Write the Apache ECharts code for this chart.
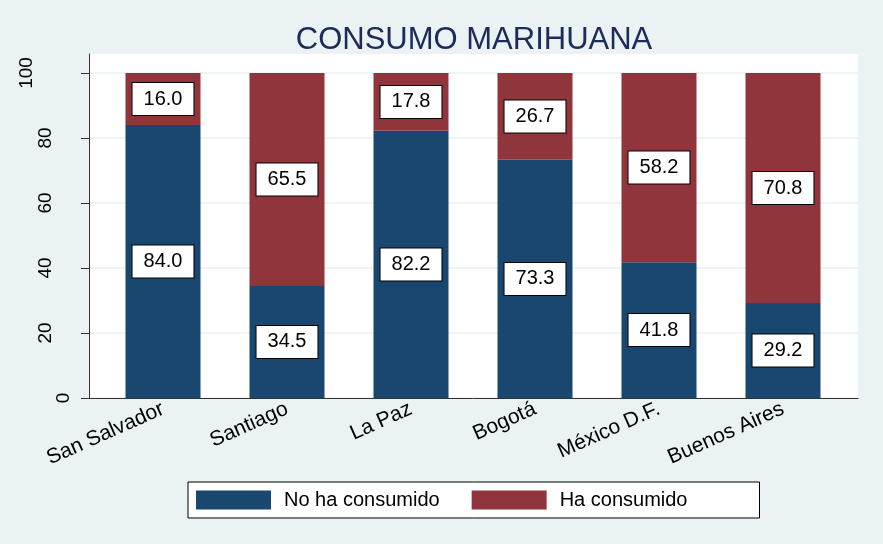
<!DOCTYPE html>
<html>
<head>
<meta charset="utf-8">
<script src="https://cdn.jsdelivr.net/npm/echarts@6/dist/echarts.min.js"></script>
<style>
html,body{margin:0;padding:0;background:#eaf2f3;}
#chart{width:883px;height:544px;}
</style>
</head>
<body>
<div id="chart"></div>
<script>
var titleText = 'CONSUMO MARIHUANA';
var cities = ['San Salvador', 'Santiago', 'La Paz', 'Bogotá', 'México D.F.', 'Buenos Aires'];
var seriesNames = ['No ha consumido', 'Ha consumido'];
var noConsumido = [84.0, 34.5, 82.2, 73.3, 41.8, 29.2];
var haConsumido = [16.0, 65.5, 17.8, 26.7, 58.2, 70.8];
var yTicks = [0, 20, 40, 60, 80, 100];

var NAVY = '#1a476f', MAROON = '#90353b';
var YMAX = 105.85;
var font = 'Arial, "Liberation Sans", sans-serif';

var chart = echarts.init(document.getElementById('chart'), null, {renderer: 'canvas'});

function labelOpt() {
  return {
    show: true,
    position: 'inside',
    formatter: function (p) { return p.value.toFixed(1); },
    color: '#000',
    fontFamily: font,
    fontSize: 20,
    lineHeight: 20,
    backgroundColor: '#fff',
    borderColor: '#000',
    borderWidth: 1,
    padding: [6, 11, 6, 11]
  };
}

var option = {
  backgroundColor: '#eaf2f3',
  animation: false,
  title: {
    text: titleText,
    left: 469,
    textAlign: 'center',
    top: 20,
    textStyle: {color: '#1c2b58', fontFamily: font, fontWeight: 'normal', fontSize: 31}
  },
  legend: {
    left: 188,
    top: 482,
    padding: [8, 72, 8, 8],
    backgroundColor: '#fff',
    borderColor: '#000',
    borderWidth: 1,
    itemWidth: 75,
    itemHeight: 19,
    itemGap: 32,
    icon: 'rect',
    textStyle: {color: '#000', fontFamily: font, fontSize: 20, padding: [0, 0, 0, 8]},
    data: seriesNames
  },
  grid: [
    {left: 89, right: 25, top: 54, bottom: 146, show: true, backgroundColor: '#fff', borderWidth: 0},
    {left: 101, width: 744, top: 54, bottom: 146}
  ],
  xAxis: [
    {gridIndex: 0, type: 'value', min: 0, max: 1,
     axisLine: {show: true, lineStyle: {color: '#333', width: 1}},
     axisTick: {show: false}, axisLabel: {show: false}, splitLine: {show: false}},
    {gridIndex: 1, type: 'category', data: cities,
     axisLine: {show: false}, axisTick: {show: false}, splitLine: {show: false},
     axisLabel: {rotate: 24, margin: 10, color: '#000', fontFamily: font, fontSize: 21, interval: 0}}
  ],
  yAxis: [
    {gridIndex: 0, type: 'value', min: 0, max: YMAX,
     axisLine: {show: true, lineStyle: {color: '#333', width: 1}},
     axisTick: {show: true, length: 8, customValues: yTicks, lineStyle: {color: '#333'}},
     axisLabel: {
       customValues: yTicks, rotate: 90, margin: 16, color: '#000', fontFamily: font, fontSize: 19,
       formatter: function (v) {
         var s = String(v);
         var k = s.length === 1 ? 'a' : (s.length === 2 ? 'b' : 'c');
         return '{' + k + '|' + s + '}';
       },
       rich: {
         a: {fontSize: 19, fontFamily: font, color: '#000', padding: [0, 0, 0, 0]},
         b: {fontSize: 19, fontFamily: font, color: '#000', padding: [0, 0, 18, 0]},
         c: {fontSize: 19, fontFamily: font, color: '#000', padding: [0, 0, 37, 0]}
       }
     },
     splitLine: {show: true, lineStyle: {color: '#eaf2f3', width: 1.5}}},
    {gridIndex: 1, type: 'value', min: 0, max: YMAX, show: false, splitLine: {show: false}}
  ],
  series: [
    {name: seriesNames[0], type: 'bar', xAxisIndex: 1, yAxisIndex: 1, stack: 'total',
     barWidth: 75, itemStyle: {color: NAVY}, label: labelOpt(), data: noConsumido},
    {name: seriesNames[1], type: 'bar', xAxisIndex: 1, yAxisIndex: 1, stack: 'total',
     barWidth: 75, itemStyle: {color: MAROON}, label: labelOpt(), data: haConsumido}
  ]
};
chart.setOption(option);
</script>
</body>
</html>
